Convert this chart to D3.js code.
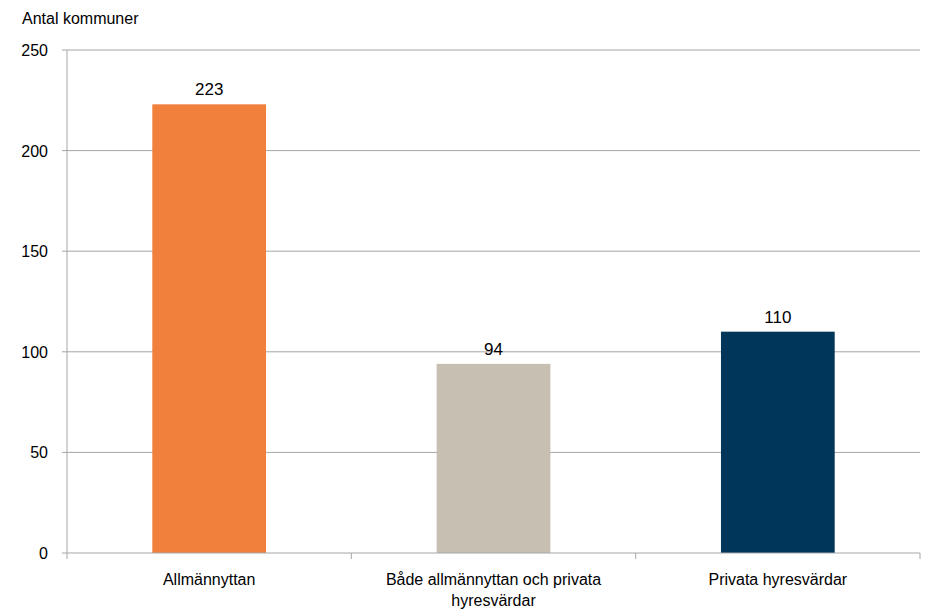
<!DOCTYPE html>
<html>
<head>
<meta charset="UTF-8">
<style>
  body { margin: 0; background: #fff; }
  text { font-family: "Liberation Sans", Arial, sans-serif; fill: #000; }
</style>
</head>
<body>
<script src="https://cdn.jsdelivr.net/npm/d3@7"></script>
<script>
var categories = ["Allmännyttan", "Både allmännyttan och privata hyresvärdar", "Privata hyresvärdar"];
var labelLines = [["Allmännyttan"], ["Både allmännyttan och privata", "hyresvärdar"], ["Privata hyresvärdar"]];
var values = [223, 94, 110];
var colors = ["#F0803C", "#C6BFB2", "#00365A"];
var yTicks = [0, 50, 100, 150, 200, 250];

var width = 946, height = 616;
var margin = {top: 50, right: 26, bottom: 63, left: 67};

var svg = d3.select("body").append("svg")
  .attr("width", width).attr("height", height);

var x = d3.scaleBand().domain(categories)
  .range([margin.left, width - margin.right]).paddingInner(0).paddingOuter(0);
var y = d3.scaleLinear().domain([0, 250]).range([height - margin.bottom, margin.top]);

// gridlines
svg.selectAll(".grid").data(yTicks.filter(function(d){ return d > 0; })).enter()
  .append("line")
  .attr("x1", margin.left).attr("x2", width - margin.right)
  .attr("y1", function(d){ return y(d); }).attr("y2", function(d){ return y(d); })
  .attr("stroke", "#a6a6a6").attr("stroke-width", 1);

// y axis
svg.append("line")
  .attr("x1", margin.left).attr("x2", margin.left)
  .attr("y1", y(250)).attr("y2", y(0)).attr("stroke", "#a6a6a6");
svg.selectAll(".ytick").data(yTicks).enter().append("line")
  .attr("x1", margin.left - 5).attr("x2", margin.left)
  .attr("y1", function(d){ return y(d); }).attr("y2", function(d){ return y(d); })
  .attr("stroke", "#a6a6a6");
svg.selectAll(".ylab").data(yTicks).enter().append("text")
  .attr("x", 48).attr("y", function(d){ return y(d) + 6; })
  .attr("text-anchor", "end").attr("font-size", 16)
  .text(function(d){ return d; });

// bars
var bw = x.bandwidth() * 0.4;
svg.selectAll(".bar").data(values).enter().append("rect")
  .attr("x", function(d, i){ return x(categories[i]) + x.bandwidth() / 2 - bw / 2; })
  .attr("y", function(d){ return y(d); })
  .attr("width", bw)
  .attr("height", function(d){ return y(0) - y(d); })
  .attr("fill", function(d, i){ return colors[i]; });

svg.selectAll(".val").data(values).enter().append("text")
  .attr("x", function(d, i){ return x(categories[i]) + x.bandwidth() / 2; })
  .attr("y", function(d){ return y(d) - 9; })
  .attr("text-anchor", "middle").attr("font-size", 17)
  .text(function(d){ return d; });

// x axis
svg.append("line")
  .attr("x1", margin.left).attr("x2", width - margin.right)
  .attr("y1", y(0)).attr("y2", y(0)).attr("stroke", "#a6a6a6");
var bounds = categories.map(function(c){ return x(c); }).concat([width - margin.right]);
svg.selectAll(".xtick").data(bounds).enter().append("line")
  .attr("x1", function(d){ return d; }).attr("x2", function(d){ return d; })
  .attr("y1", y(0)).attr("y2", y(0) + 6).attr("stroke", "#a6a6a6");

labelLines.forEach(function(lines, i) {
  var t = svg.append("text")
    .attr("x", x(categories[i]) + x.bandwidth() / 2)
    .attr("y", 585).attr("text-anchor", "middle").attr("font-size", 16);
  lines.forEach(function(l, j) {
    t.append("tspan").attr("x", x(categories[i]) + x.bandwidth() / 2)
      .attr("dy", j === 0 ? 0 : 21).text(l);
  });
});

svg.append("text").attr("x", 22).attr("y", 24).attr("font-size", 16).text("Antal kommuner");
</script>
</body>
</html>
